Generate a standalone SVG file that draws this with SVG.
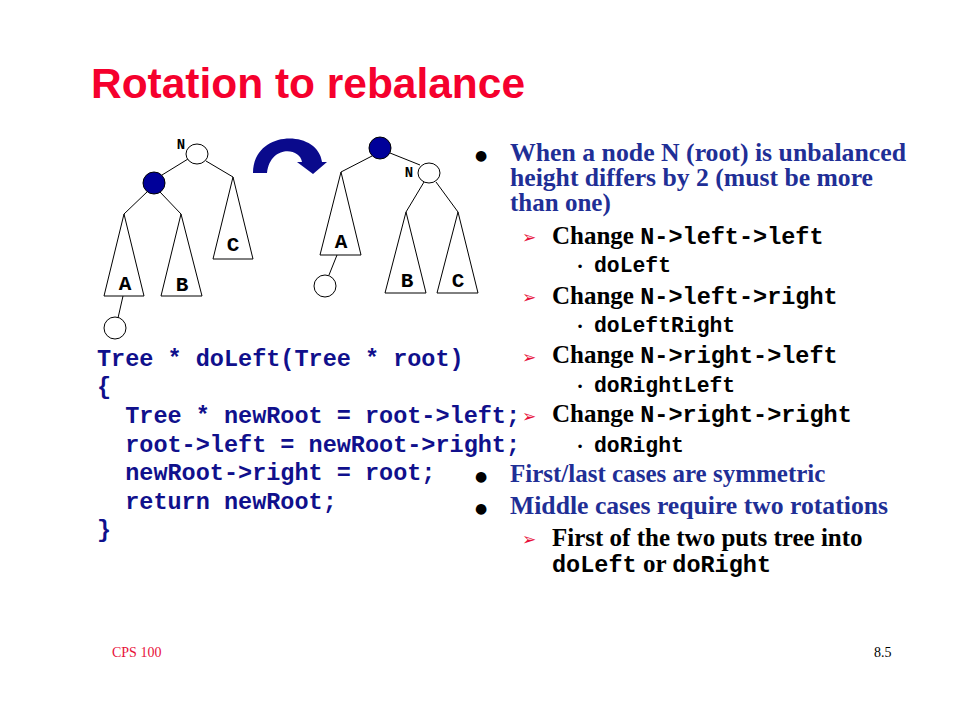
<svg xmlns="http://www.w3.org/2000/svg" width="960" height="720" viewBox="0 0 960 720">
<style>
.title{font-family:"Liberation Sans",Arial,sans-serif;font-weight:bold;font-size:42.5px;fill:#f5002d}
.code{font-family:"Liberation Mono","Courier New",monospace;font-weight:bold;font-size:23.5px;fill:#10108c;white-space:pre}
.bt{font-family:"Liberation Serif","Times New Roman",serif;font-weight:bold;font-size:25px;fill:#1f2f96}
.st{font-family:"Liberation Serif","Times New Roman",serif;font-weight:bold;font-size:25px;fill:#000}
.sm{font-family:"Liberation Mono","Courier New",monospace;font-weight:bold;font-size:23.5px;fill:#000}
.ssm{font-family:"Liberation Mono","Courier New",monospace;font-weight:bold;font-size:21.4px;fill:#000}
.dot{font-family:"DejaVu Sans",sans-serif;font-size:14px;fill:#000}
.arr{font-family:"DejaVu Sans",sans-serif;font-size:17px;fill:#e8103a}
.sdot{font-family:"DejaVu Sans",sans-serif;font-size:12px;fill:#000}
.lbl{font-family:"Liberation Mono","Courier New",monospace;font-weight:bold;font-size:21px;fill:#000;text-anchor:middle}
.nl{font-family:"Liberation Mono","Courier New",monospace;font-weight:bold;font-size:14px;fill:#000;text-anchor:middle}
.foot{font-family:"Liberation Serif","Times New Roman",serif;font-size:14px}
.tri{fill:#fff;stroke:#000;stroke-width:1}
.open{fill:#fff;stroke:#000;stroke-width:1}
.full{fill:#000099;stroke:#000;stroke-width:1}
.edge{stroke:#000;stroke-width:1;fill:none}
</style>
<rect width="960" height="720" fill="#fff"/>
<text class="title" x="91" y="98" textLength="434" lengthAdjust="spacingAndGlyphs">Rotation to rebalance</text>

<!-- left tree -->
<g id="connectors-left">
<line class="edge" x1="188" y1="159" x2="162" y2="175"/>
<line class="edge" x1="206" y1="161" x2="233" y2="177"/>
<line class="edge" x1="148" y1="191" x2="124" y2="214"/>
<line class="edge" x1="160" y1="192" x2="181" y2="214"/>
<line class="edge" x1="123" y1="296" x2="118" y2="318"/>
</g>
<g id="left-N"><ellipse class="open" cx="197" cy="154" rx="11" ry="10"/><text class="nl" x="181" y="149">N</text></g>
<g id="left-root-child"><circle class="full" cx="154" cy="183" r="11"/></g>
<g id="left-C"><polygon class="tri" points="233,177 213,259 253,259"/><text class="lbl" x="233" y="251">C</text></g>
<g id="left-A"><polygon class="tri" points="124,214 104,296 144,296"/><text class="lbl" x="125" y="290">A</text></g>
<g id="left-B"><polygon class="tri" points="181,214 161,296 202,296"/><text class="lbl" x="182" y="291">B</text></g>
<g id="left-leaf"><circle class="open" cx="115" cy="328" r="11"/></g>

<!-- rotation arrow -->
<g id="rotate-arrow"><path fill="#0a0a8c" d="M253,173 C253,129 318,129 322,162 L327,162 L313,174 L297,162 L302,162 C300,147 270,145 267,173 Z"/></g>

<!-- right tree -->
<g id="connectors-right">
<line class="edge" x1="390" y1="153" x2="420" y2="165"/>
<line class="edge" x1="372" y1="156" x2="341" y2="172"/>
<line class="edge" x1="424" y1="182" x2="406" y2="212"/>
<line class="edge" x1="436" y1="182" x2="458" y2="212"/>
<line class="edge" x1="337" y1="255" x2="329" y2="275"/>
</g>
<g id="right-root"><circle class="full" cx="380" cy="148" r="11"/></g>
<g id="right-N"><ellipse class="open" cx="429" cy="173" rx="11" ry="10"/><text class="nl" x="409" y="177">N</text></g>
<g id="right-A"><polygon class="tri" points="341,172 320,255 361,255"/><text class="lbl" x="341" y="248">A</text></g>
<g id="right-leaf"><circle class="open" cx="325" cy="286" r="11"/></g>
<g id="right-B"><polygon class="tri" points="406,212 385,293 426,293"/><text class="lbl" x="407" y="287">B</text></g>
<g id="right-C"><polygon class="tri" points="458,212 437,293 478,293"/><text class="lbl" x="458" y="287">C</text></g>

<!-- code -->
<g id="code">
<text class="code" x="97" y="366">Tree * doLeft(Tree * root)</text>
<text class="code" x="97" y="394">{</text>
<text class="code" x="97" y="423">  Tree * newRoot = root-&gt;left;</text>
<text class="code" x="97" y="452">  root-&gt;left = newRoot-&gt;right;</text>
<text class="code" x="97" y="480">  newRoot-&gt;right = root;</text>
<text class="code" x="97" y="509">  return newRoot;</text>
<text class="code" x="97" y="537">}</text>
</g>

<!-- bullets -->
<g id="bullets">
<text class="dot" x="481" y="160" text-anchor="middle">●</text>
<text class="bt" x="510" y="161" textLength="396" lengthAdjust="spacingAndGlyphs">When a node N (root) is unbalanced</text>
<text class="bt" x="510" y="186" textLength="363" lengthAdjust="spacingAndGlyphs">height differs by 2 (must be more</text>
<text class="bt" x="510" y="211">than one)</text>

<text class="arr" x="529" y="243" text-anchor="middle">➢</text>
<text x="552" y="244"><tspan class="st">Change </tspan><tspan class="sm">N-&gt;left-&gt;left</tspan></text>
<text class="sdot" x="580" y="271" text-anchor="middle">•</text>
<text class="ssm" x="594" y="272">doLeft</text>

<text class="arr" x="529" y="303" text-anchor="middle">➢</text>
<text x="552" y="304"><tspan class="st">Change </tspan><tspan class="sm">N-&gt;left-&gt;right</tspan></text>
<text class="sdot" x="580" y="331" text-anchor="middle">•</text>
<text class="ssm" x="594" y="332">doLeftRight</text>

<text class="arr" x="529" y="363" text-anchor="middle">➢</text>
<text x="552" y="363"><tspan class="st">Change </tspan><tspan class="sm">N-&gt;right-&gt;left</tspan></text>
<text class="sdot" x="580" y="391" text-anchor="middle">•</text>
<text class="ssm" x="594" y="392">doRightLeft</text>

<text class="arr" x="529" y="422" text-anchor="middle">➢</text>
<text x="552" y="422"><tspan class="st">Change </tspan><tspan class="sm">N-&gt;right-&gt;right</tspan></text>
<text class="sdot" x="580" y="451" text-anchor="middle">•</text>
<text class="ssm" x="594" y="452">doRight</text>

<text class="dot" x="481" y="481" text-anchor="middle">●</text>
<text class="bt" x="510" y="482">First/last cases are symmetric</text>
<text class="dot" x="481" y="513" text-anchor="middle">●</text>
<text class="bt" x="510" y="514" textLength="378" lengthAdjust="spacingAndGlyphs">Middle cases require two rotations</text>

<text class="arr" x="529" y="545" text-anchor="middle">➢</text>
<text class="st" x="552" y="546">First of the two puts tree into</text>
<text x="552" y="572"><tspan class="sm">doLeft</tspan><tspan class="st"> or </tspan><tspan class="sm">doRight</tspan></text>
</g>

<!-- footer -->
<text class="foot" x="112" y="657" fill="#e8103a">CPS 100</text>
<text class="foot" x="874" y="657" fill="#000">8.5</text>
</svg>
